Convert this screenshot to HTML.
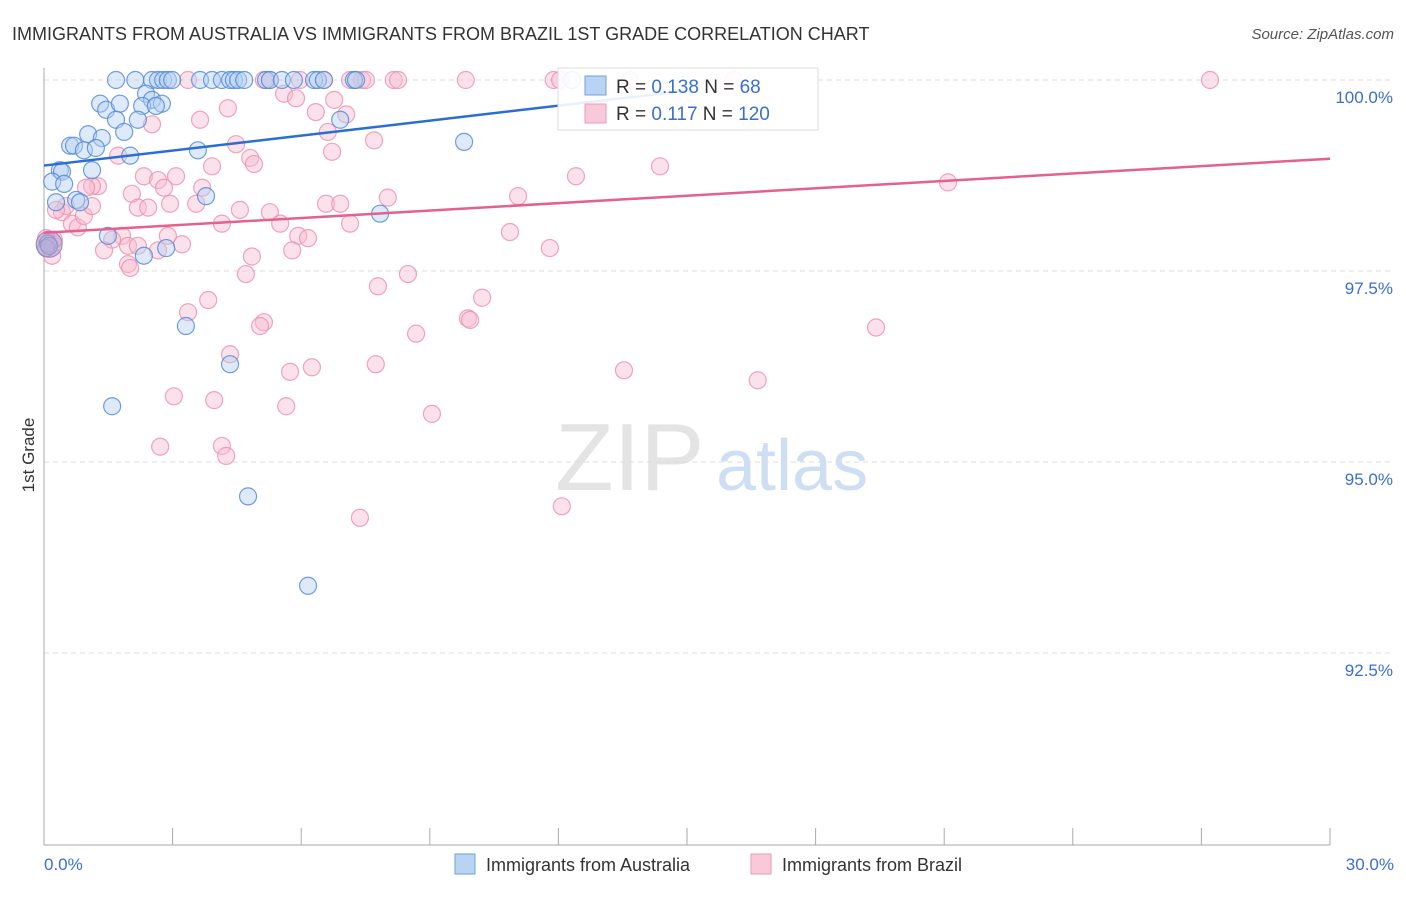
<!DOCTYPE html>
<html><head><meta charset="utf-8"><style>
body{margin:0;background:#fff;font-family:"Liberation Sans",sans-serif;}
svg text{font-family:"Liberation Sans",sans-serif;}
</style></head><body>
<svg width="1406" height="892" viewBox="0 0 1406 892">
<text x="12" y="40" font-size="18" fill="#333">IMMIGRANTS FROM AUSTRALIA VS IMMIGRANTS FROM BRAZIL 1ST GRADE CORRELATION CHART</text>
<text x="1394" y="39" font-size="15" fill="#555" font-style="italic" text-anchor="end">Source: ZipAtlas.com</text>
<text x="555" y="490" font-size="96" fill="#e4e4e4" font-family="Liberation Serif">ZIP</text>
<text x="716" y="490" font-size="72" fill="#cfdff3">atlas</text>
<g id="grid"></g>
<g id="axes"></g>
<g id="pts"></g>
<g id="lines"></g>
<text transform="translate(34,455) rotate(-90)" font-size="17" fill="#333" text-anchor="middle">1st Grade</text>
<text x="44" y="870" font-size="17" fill="#3a6fd0">0.0%</text>
<text x="1394" y="870" font-size="17" fill="#3a6fd0" text-anchor="end">30.0%</text>
<g>
<rect x="558" y="68" width="260" height="62" fill="#fff" fill-opacity="0.9" stroke="#ddd"/>
<rect x="585" y="76" width="21" height="19" fill="#b9d3f2" stroke="#6fa0e0"/>
<rect x="585" y="104" width="21" height="19" fill="#f8c9d8" stroke="#ec9ab5"/>
<text x="616" y="93" font-size="19" fill="#333">R = <tspan fill="#3a6fd0">0.138</tspan>   N = <tspan fill="#3a6fd0"> 68</tspan></text>
<text x="616" y="120" font-size="19" fill="#333">R =  <tspan fill="#3a6fd0">0.117</tspan>   N = <tspan fill="#3a6fd0">120</tspan></text>
</g>
<g>
<rect x="455" y="854" width="20" height="20" fill="#b9d3f2" stroke="#6fa0e0"/>
<text x="486" y="871" font-size="18" fill="#333">Immigrants from Australia</text>
<rect x="751" y="854" width="20" height="20" fill="#f8c9d8" stroke="#ec9ab5"/>
<text x="782" y="871" font-size="18" fill="#333">Immigrants from Brazil</text>
</g>
</svg>
<script>
const yTicks=[100,97.5,95,92.5];
const yTickLabels=["100.0%","97.5%","95.0%","92.5%"];
const xTicks=[3,6,9,12,15,18,21,24,27,30];
const blueX=[1.68,2.13,2.52,2.66,2.78,2.89,2.99,3.64,3.92,4.15,4.34,4.43,4.53,4.67,5.18,5.27,5.55,5.83,6.30,6.39,6.53,7.23,7.28,12.32,1.31,1.45,1.77,2.38,2.52,2.29,2.75,2.61,1.68,1.87,2.19,1.03,1.35,0.61,0.70,0.93,1.21,2.01,3.59,0.37,0.42,1.12,0.19,0.47,0.28,0.75,0.84,1.49,2.33,2.85,3.78,6.91,7.84,9.80,3.31,4.34,1.59,4.76,6.16,0.09,0.05,0.12];
const blueY=[100,100,100,100,100,100,100,100,100,100,100,100,100,100,100,100,100,100,100,100,100,100,100,100,99.69,99.61,99.69,99.82,99.74,99.66,99.69,99.66,99.48,99.32,99.48,99.29,99.24,99.14,99.14,99.08,99.11,99.01,99.08,98.82,98.80,98.82,98.67,98.64,98.40,98.43,98.40,97.96,97.70,97.80,98.48,99.48,98.25,99.19,96.78,96.28,95.73,94.55,93.38,97.86,97.80,97.83];
const pinkX=[3.36,5.13,5.27,5.97,6.53,7.14,7.42,7.51,8.16,8.26,9.84,11.89,12.04,13.67,16.09,27.20,5.60,5.88,6.34,6.77,7.05,4.29,3.64,2.52,4.48,6.62,6.72,4.81,4.90,7.70,1.73,3.92,3.69,3.08,2.33,2.66,2.80,1.26,1.12,0.98,2.05,3.55,2.94,2.19,2.43,4.57,5.27,6.58,6.91,8.02,11.06,12.41,14.37,21.09,0.42,0.51,0.65,0.79,0.93,1.12,4.15,5.51,5.93,6.16,7.14,10.87,1.82,1.96,1.59,1.40,2.19,2.66,2.89,3.22,4.85,5.79,11.80,1.96,2.01,4.71,8.49,7.79,10.22,3.83,3.36,5.13,5.04,9.89,9.94,8.68,19.41,4.34,5.74,6.25,7.74,13.53,16.65,3.03,3.97,5.65,9.05,2.71,4.15,4.25,7.37,12.08,0.23,0.19,0.28,0.05];
const pinkY=[100,100,100,100,100,100,100,100,100,100,100,100,100,100,100,100,99.82,99.76,99.58,99.74,99.55,99.63,99.48,99.42,99.16,99.32,99.06,98.98,98.90,99.21,99.01,98.87,98.59,98.74,98.74,98.69,98.59,98.61,98.61,98.59,98.51,98.38,98.38,98.33,98.33,98.30,98.27,98.38,98.38,98.46,98.48,98.74,98.87,98.66,98.27,98.35,98.12,98.07,98.22,98.35,98.12,98.12,97.96,97.93,98.12,98.01,97.96,97.83,97.91,97.77,97.83,97.77,97.96,97.85,97.69,97.77,97.80,97.59,97.54,97.46,97.46,97.30,97.15,97.12,96.96,96.83,96.78,96.88,96.86,96.68,96.76,96.41,96.18,96.24,96.28,96.20,96.07,95.86,95.81,95.73,95.63,95.20,95.21,95.08,94.27,94.42,97.91,97.70,98.30,97.93];
const blueTrend=[0,98.88,15,99.86];
const pinkTrend=[0,98.00,30,98.97];
const X=v=>44+v/30*1286, Y=v=>80+(100-v)/10*764;
const NS="http://www.w3.org/2000/svg";
function mk(tag,parent,attrs){const e=document.createElementNS(NS,tag);for(const k in attrs)e.setAttribute(k,attrs[k]);document.getElementById(parent).appendChild(e);return e;}
yTicks.forEach((t,i)=>{
 const l=mk('line','grid',{x1:44,x2:1394,y1:Y(t),y2:Y(t),stroke:'#ddd','stroke-dasharray':'5,4'});
 
 
 const tx=mk('text','grid',{x:1393,y:Y(t)+23,'font-size':17,fill:'#3a6fd0','text-anchor':'end'});
 tx.textContent=yTickLabels[i];
 
 
});
const ax=mk('line','axes',{x1:44,x2:44,y1:68,y2:845,stroke:'#aaa'});


const bx=mk('line','axes',{x1:44,x2:1330,y1:845,y2:845,stroke:'#aaa'});


xTicks.forEach(t=>{
 const l=mk('line','axes',{x1:X(t),x2:X(t),y1:828,y2:845,stroke:'#aaa'});
 
 
});
function pts(xs,ys,fill,stroke,name){xs.forEach((x,i)=>{
 const c=mk('circle','pts',{cx:X(x),cy:Y(ys[i]),r:8.5,fill:fill,'fill-opacity':0.45,stroke:stroke,'stroke-opacity':0.8,'stroke-width':1.2});
 
 
});}
pts(pinkX,pinkY,'#f6bcd0','#ec8fae','brazil-point');
pts(blueX,blueY,'#b5d0f2','#4c86d8','australia-point');
const big=mk('circle','pts',{cx:X(0.12),cy:Y(97.85),r:13,fill:'#b59ac8','fill-opacity':0.6,stroke:'#9a7fc0'});


const bl=mk('line','lines',{x1:X(blueTrend[0]),y1:Y(blueTrend[1]),x2:X(blueTrend[2]),y2:Y(blueTrend[3]),stroke:'#2a6dd3','stroke-width':2.5});


const pl=mk('line','lines',{x1:X(pinkTrend[0]),y1:Y(pinkTrend[1]),x2:X(pinkTrend[2]),y2:Y(pinkTrend[3]),stroke:'#e5608c','stroke-width':2.5});


</script>
</body></html>
